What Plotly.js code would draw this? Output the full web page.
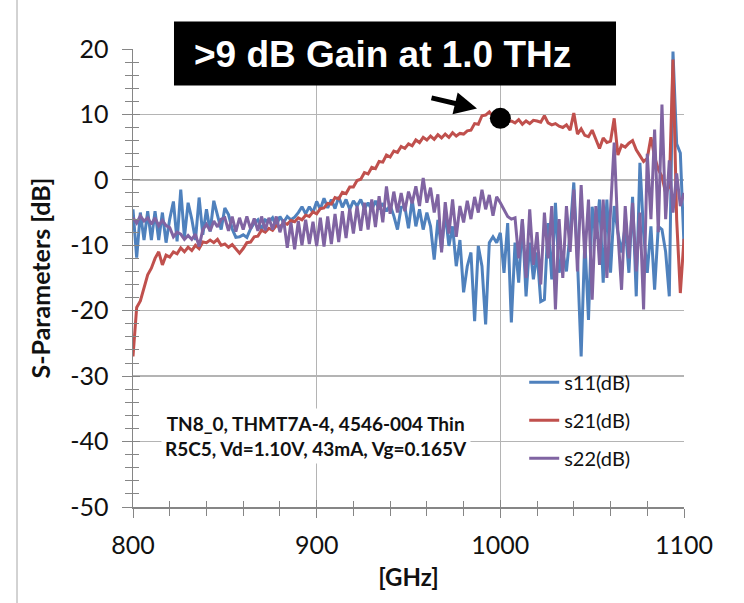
<!DOCTYPE html>
<html>
<head>
<meta charset="utf-8">
<script src="https://cdn.plot.ly/plotly-3.0.1.min.js"></script>
<style>
  html, body { margin: 0; padding: 0; background: #ffffff; }
  #chart { width: 744px; height: 603px; }
</style>
</head>
<body>
<div id="chart"></div>
<script>
// Frequency sweep: 800 to 1100 GHz, one reading every 2 GHz
const freqStart = 800;
const freqStep = 2;
const freqGHz = Array.from({ length: 151 }, (_, i) => freqStart + freqStep * i);

// Measured S-parameters in dB
const s11 = [
  -4.5, -11.9, -5, -9.2, -4.8, -9.2, -4.8, -9.2, -5, -9.6,
  -6, -3.3, -9.4, -1.5, -8.8, -3.5, -6, -9.2, -2.7, -8.4,
  -4.5, -7.9, -3.2, -5.5, -7.6, -4.3, -5.3, -7.5, -8.8, -8.7,
  -8.4, -8.8, -7.5, -6.6, -6.1, -7.6, -6.1, -6.4, -5.8, -7.1,
  -5.6, -6.5, -5.6, -6.1, -5.7, -5.0, -4.1, -5.2, -4.1, -5.0,
  -3.3, -4.5, -2.8, -4.3, -3.0, -4.4, -2.6, -4.2, -3.0, -4.5,
  -3.2, -4.0, -3.0, -4.4, -3.5, -4.6, -3.2, -4.5, -3.6, -4.8,
  -3.9, -5.5, -7.6, -4.2, -4.1, -7.4, -3.0, -7.1, -4.5, -7.6,
  -5.0, -7.1, -12.2, -6.1, -10.6, -5.0, -10.1, -7.1, -13.2, -9.2,
  -17.2, -13.2, -11.1, -21.6, -10.1, -13.2, -22.1, -9.6, -8.7, -9.6,
  -8.1, -14.2, -6.6, -21.8, -9.6, -15.7, -6.1, -17.8, -9.6, -15.2,
  -11.1, -18.6, -18.3, -6.6, -15.2, -3.5, -14.2, -11.1, -14.0, -8.0,
  -0.4, -12.2, -27, -9.1, -21.4, -4.1, -9, -3, -15.7, -3.0,
  -14.2, -4, -8, -11.1, -7, -14.2, -2.6, -17.8, 2.6, -8.1,
  -14.2, -7.1, -16.8, -7.1, -7.6, -11, -17.8, 19.6, 5.5, 4.1,
  -10
];

const s21 = [
  -27, -19.5, -18.5, -16.5, -14.5, -13.5, -12, -11, -13, -11.5,
  -11.8, -11.0, -11.3, -10.4, -11.0, -10.3, -10.8, -10.0, -10.5, -9.5,
  -9.6, -9.2, -9.6, -9.1, -10.0, -9.8, -10.3, -9.9, -10.6, -11.2,
  -10.5, -9.6, -9.5, -8.7, -8.6, -7.7, -8.0, -7.4, -7.7, -7.0,
  -7.2, -6.6, -6.8, -6.2, -6.4, -5.8, -6.1, -5.4, -5.6, -4.9,
  -5.2, -4.4, -4.3, -3.6, -3.7, -2.7, -2.9, -1.9, -2.1, -1.1,
  -1.1, -0.1, 0.1, 1.1, 0.9, 1.9, 1.7, 2.8, 2.7, 3.8,
  3.5, 4.4, 4.2, 5.1, 4.8, 5.5, 5.2, 6.1, 5.7, 6.5,
  6.1, 6.7, 6.2, 6.9, 6.4, 7.0, 6.5, 7.2, 6.7, 7.1,
  7.0, 7.5, 7.6, 8.6, 8.5, 9.8, 9.9, 10.4, 9.7, 9.8,
  9.4, 9.5, 8.9, 9.0, 8.7, 9.2, 8.5, 9.0, 8.6, 9.1,
  9.0, 8.8, 9.8, 8.7, 8.4, 8.6, 8.2, 8.0, 8.4, 7.6,
  10.2, 7.0, 7.8, 6.8, 6.6, 7.6, 6.2, 4.8, 6.4, 5.7,
  5.9, 9.4, 3.8, 5.3, 5.0, 5.6, 6.0, 4.6, 3.7, 2.8,
  3.3, 6.5, 3.5, 1.6, 0.5, -2.0, -1.0, 18.4, -6, -17.3,
  -9
];

const s22 = [
  -5.8, -6.6, -5.5, -6.3, -5.8, -6.8, -5.8, -7, -6.2, -7,
  -7.3, -8.7, -8.0, -8.3, -9.1, -8.5, -9.1, -8.3, -10.2, -7.6,
  -6.8, -7.8, -6.3, -7.2, -6.0, -5.8, -7.8, -5.6, -7.9, -5.8,
  -7.6, -5.6, -7.5, -5.9, -7.8, -5.6, -7.7, -5.8, -7.6, -5.6,
  -8.0, -6.1, -10.4, -6.5, -10.6, -6.3, -10.0, -6.1, -9.8, -6.4,
  -10.1, -5.8, -10.2, -5.6, -9.8, -5.2, -9.5, -4.8, -8.9, -4.4,
  -8.2, -4.0, -7.8, -3.5, -7.6, -3.0, -7.2, -2.5, -6.5, -1.0,
  -5.2, -1.8, -5.0, -2.0, -4.8, -1.8, -3.6, -1.0, -4.0, 0.3,
  -3.5, -1.2, -5.0, -2.2, -11.1, -3.4, -8.2, -3.0, -8.7, -4.0,
  -6.5, -3.2, -6.0, -2.6, -5.0, -1.5, -4.5, -2.3, -5.5, -2.6,
  -3.5, -4.5, -5.6, -6.0, -5.8, -12, -6, -15, -4.5, -13,
  -8, -16, -5, -12, -4, -19.8, -6, -15, -4, -11,
  -1.5, -14, -0.8, -12, -3, -18.3, -4, -13, -3, -15,
  -5, 5.7, -8, -16.8, -4, -12, -3.5, -14, -5, -19.8,
  4, -6, 7.7, -8, 11.5, -6, 3, -5, 1, -4,
  -2
];

const seriesNames = ['s11(dB)', 's21(dB)', 's22(dB)'];
const seriesColors = ['#4F81BD', '#C0504D', '#8064A2'];

// Axis tick values; labels written with a plain hyphen for negatives
const xTicks = [800, 900, 1000, 1100];
const yTicks = [-50, -40, -30, -20, -10, 0, 10, 20];

// Highlighted gain point at 1.0 THz, taken from the s21 trace
const markFreq = 1000;
const markGain = s21[freqGHz.indexOf(markFreq)];

const gridGrey = '#b4b4b4';
const axisGrey = '#868686';
const fontFamily = 'Lato, "DejaVu Sans", sans-serif';
const tickFont = { family: fontFamily, size: 25, color: '#111111' };

const traces = [s11, s21, s22].map((vals, i) => ({
  type: 'scatter',
  mode: 'lines',
  name: seriesNames[i],
  x: freqGHz,
  y: vals,
  line: { color: seriesColors[i], width: 3 },
  legendgroup: 'g' + i,
  hoverinfo: 'x+y+name'
}));

traces.push({
  type: 'scatter',
  mode: 'markers',
  x: [markFreq],
  y: [markGain],
  marker: { color: '#000000', size: 21 },
  showlegend: false,
  hoverinfo: 'x+y'
});

// Empty trace that carries the inner half of the crossing tick marks
traces.push({
  type: 'scatter', mode: 'lines', x: [], y: [],
  xaxis: 'x2', yaxis: 'y2', showlegend: false, hoverinfo: 'skip'
});

const layout = {
  width: 744,
  height: 603,
  margin: { l: 133, r: 60, t: 49, b: 96, pad: 0 },
  paper_bgcolor: '#ffffff',
  plot_bgcolor: '#ffffff',
  showlegend: true,
  xaxis: {
    range: [800, 1100],
    tickmode: 'array',
    tickvals: xTicks,
    ticktext: xTicks.map(String),
    showgrid: true,
    gridcolor: gridGrey,
    gridwidth: 1.5,
    zeroline: false,
    showline: true,
    linecolor: axisGrey,
    linewidth: 1.5,
    ticks: 'outside',
    ticklen: 9,
    tickwidth: 1,
    tickcolor: axisGrey,
    minor: { tick0: 800, dtick: 20, ticks: 'outside', ticklen: 7, tickcolor: axisGrey, showgrid: false },
    tickfont: tickFont,
    ticklabelstandoff: 6,
    title: { text: '<b>[GHz]</b>', font: { family: fontFamily, size: 24, color: '#111111' }, standoff: 11 },
    automargin: false
  },
  yaxis: {
    range: [-50, 20],
    tickmode: 'array',
    tickvals: yTicks,
    ticktext: yTicks.map(String),
    showgrid: true,
    gridcolor: gridGrey,
    gridwidth: 1.5,
    zeroline: false,
    showline: true,
    linecolor: axisGrey,
    linewidth: 1.5,
    ticks: 'outside',
    ticklen: 10,
    tickwidth: 1,
    tickcolor: axisGrey,
    minor: { tick0: -50, dtick: 2, ticks: 'outside', ticklen: 7, tickcolor: axisGrey, showgrid: false },
    tickfont: tickFont,
    ticklabelstandoff: 8,
    title: { text: '<b>S-Parameters [dB]</b>', font: { family: fontFamily, size: 25, color: '#111111' }, standoff: 12 },
    automargin: false
  },
  xaxis2: {
    overlaying: 'x', anchor: 'y', side: 'bottom',
    range: [800, 1100], tick0: 800, dtick: 100,
    showgrid: false, zeroline: false, showline: false, showticklabels: false,
    ticks: 'inside', ticklen: 7, tickcolor: axisGrey,
    minor: { dtick: 20, ticks: 'inside', ticklen: 6, tickcolor: axisGrey, showgrid: false },
    fixedrange: true
  },
  yaxis2: {
    overlaying: 'y', anchor: 'x', side: 'left',
    range: [-50, 20], tick0: -50, dtick: 10,
    showgrid: false, zeroline: false, showline: false, showticklabels: false,
    ticks: 'inside', ticklen: 7, tickcolor: axisGrey,
    minor: { dtick: 2, ticks: 'inside', ticklen: 6, tickcolor: axisGrey, showgrid: false },
    fixedrange: true
  },
  legend: {
    x: 0.71, y: 0.315, xanchor: 'left', yanchor: 'top',
    bgcolor: 'rgba(0,0,0,0)',
    font: { family: fontFamily, size: 20, color: '#111111' },
    tracegroupgap: 9,
    itemwidth: 30
  },
  shapes: [
    // black banner behind the headline
    { type: 'rect', xref: 'paper', yref: 'paper', x0: 0.0744, x1: 0.8766, y0: 0.9202, y1: 1.0601,
      fillcolor: '#000000', line: { width: 0 }, layer: 'above' },
    // outer frame edge on the left
    { type: 'line', xref: 'paper', yref: 'paper', x0: -0.2105, x1: -0.2105, y0: -0.22, y1: 1.12,
      line: { color: '#a6a6a6', width: 1 } }
  ],
  annotations: [
    { xref: 'paper', yref: 'paper', x: 0.4537, y: 0.988, xanchor: 'center', yanchor: 'middle',
      text: '<b>>9 dB Gain at 1.0 THz</b>', showarrow: false,
      font: { family: '"Liberation Sans", Arial, sans-serif', size: 37, color: '#ffffff' } },
    { xref: 'x', yref: 'y', x: 987.3, y: 10.9, ax: -47, ay: -11, text: '',
      showarrow: true, arrowhead: 2, arrowsize: 0.9, arrowwidth: 5, arrowcolor: '#000000' },
    { xref: 'paper', yref: 'paper', x: 0.332, y: 0.155, xanchor: 'center', yanchor: 'middle',
      text: '<b>TN8_0, THMT7A-4, 4546-004 Thin<br>R5C5, Vd=1.10V, 43mA, Vg=0.165V</b>',
      showarrow: false, bgcolor: '#ffffff', borderpad: 3,
      font: { family: fontFamily, size: 19, color: '#111111' } }
  ]
};

Plotly.newPlot('chart', traces, layout, { displayModeBar: false, staticPlot: true });
</script>
</body>
</html>
